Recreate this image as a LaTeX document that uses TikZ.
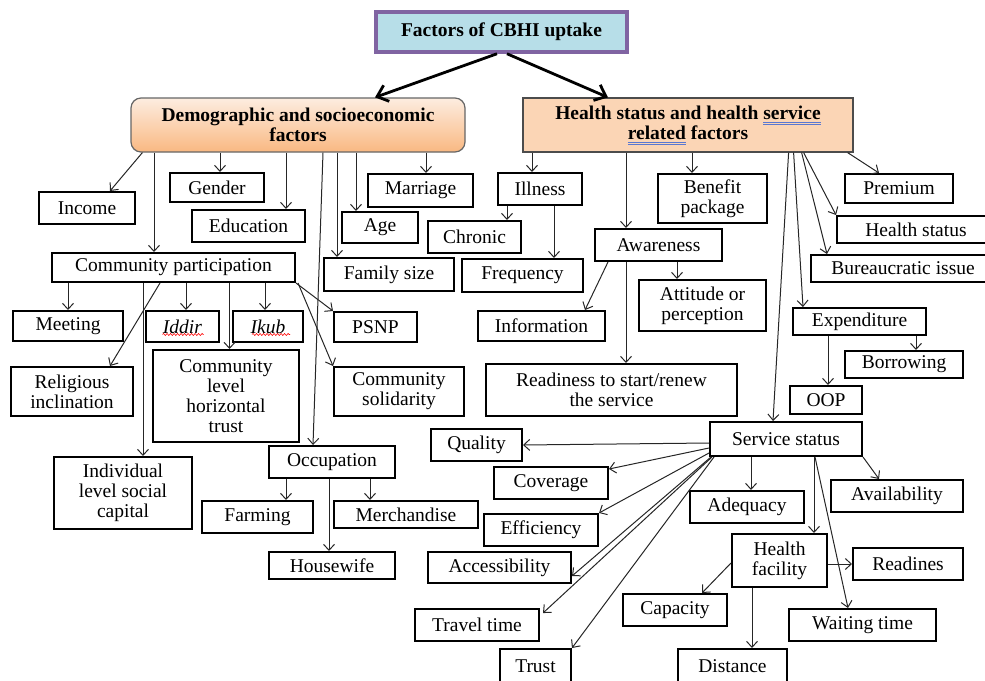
\documentclass[tikz,border=0pt]{standalone}
\usepackage{fontspec}
\setmainfont{Liberation Serif}
\usetikzlibrary{arrows.meta,shadows,decorations.pathmorphing}

\definecolor{titleblue}{RGB}{183,222,232}
\definecolor{titlepurple}{RGB}{128,100,162}
\definecolor{demotop}{RGB}{253,237,224}
\definecolor{demobottom}{RGB}{249,184,130}
\definecolor{healthpeach}{RGB}{251,213,181}
\definecolor{spellblue}{RGB}{90,120,210}

% spell-check mark of the original
\newcommand\blueuu[1]{\setbox0\hbox{#1}\rlap{\textcolor{spellblue}{\rule[-3.5pt]{\wd0}{0.7pt}}}\rlap{\textcolor{spellblue}{\rule[-5.5pt]{\wd0}{0.7pt}}}\box0\relax}

\begin{document}
\begin{tikzpicture}[x=1pt,y=-1pt,
    font=\fontsize{19.5}{20}\selectfont,
    heading/.style={font=\fontsize{19.5}{20}\selectfont\bfseries,align=center},
    box/.style={draw,line width=2pt,fill=white,inner sep=2pt,align=center},
    wh/.style 2 args={minimum width=#1pt,minimum height=#2pt},
    link/.style={draw=black!85,line width=1pt,-{Straight Barb[length=6pt,width=11pt]}},
    biglink/.style={line width=2.8pt,-{Straight Barb[length=10pt,width=17pt]}},
    spellwave/.style={red,line width=.6pt,decorate,decoration={snake,amplitude=1pt,segment length=3.5pt}}]
  \useasboundingbox (0,0) rectangle (985,680);
  \clip (0,0) rectangle (985,680);

  % Top of the tree
  \node[draw=titlepurple,line width=3.5pt,fill=titleblue,wh={251}{40},heading,
        drop shadow={shadow xshift=2pt,shadow yshift=-2pt,opacity=.35}] (title) at (501.5,32) {Factors of CBHI uptake};
  \node[draw=black!60,line width=1.2pt,rounded corners=10pt,top color=demotop,bottom color=demobottom,
        wh={334}{54},heading] (demographic) at (298,125) {Demographic and socioeconomic\\factors};
  \node[draw=black!70,line width=1.2pt,fill=healthpeach,wh={330}{54},heading] (health) at (688,125)
        {Health status and health \blueuu{service}\\\blueuu{related} factors};

  \draw[biglink] ([xshift=-4.5pt]title.south) -- ([xshift=77pt]demographic.north);
  \draw[biglink] ([xshift=5.5pt]title.south) -- ([xshift=-80pt]health.north);

  \begin{scope}[every node/.style=box]
    % Demographic and socioeconomic factors
    \node[wh={96}{32}] (income) at (87,208) {Income};
    \node[wh={94}{29}] (gender) at (217,187.5) {Gender};
    \node[wh={113}{32}] (education) at (248.5,226) {Education};
    \node[wh={76}{31}] (age) at (380,227.5) {Age};
    \node[wh={105}{33}] (marriage) at (420.5,190.5) {Marriage};
    \node[wh={130}{33}] (family_size) at (389,274.5) {Family size};
    \node[wh={243}{29}] (participation) at (173.5,267.5) {Community participation};

    % Community participation
    \node[wh={110}{30}] (meeting) at (68,326) {Meeting};
    \node[wh={73}{31}] (iddir) at (182.5,326.5) {\textit{Iddir}};
    \node[wh={70}{31}] (ikub) at (268,326.5) {\textit{Ikub}};
    \node[wh={83}{30}] (psnp) at (375.5,327) {PSNP};
    \node[wh={122}{49}] (religious) at (72,391.5) {Religious\\inclination};
    \node[wh={146}{92}] (horizontal_trust) at (226,396) {Community\\level\\horizontal\\trust};
    \node[wh={130}{49}] (solidarity) at (399,391.5) {Community\\solidarity};
    \node[wh={138}{72}] (social_capital) at (123,493) {Individual\\level social\\capital};

    % Occupation
    \node[wh={126}{32}] (occupation) at (332,462) {Occupation};
    \node[wh={111}{32}] (farming) at (257.5,517) {Farming};
    \node[wh={144}{27}] (merchandise) at (406,514.5) {Merchandise};
    \node[wh={126}{27}] (housewife) at (332,565.5) {Housewife};

    % Health status and health service related factors
    \node[wh={84}{32}] (illness) at (540,189) {Illness};
    \node[wh={93}{32}] (chronic) at (474.5,237) {Chronic};
    \node[wh={121}{33}] (frequency) at (522.5,275.5) {Frequency};
    \node[wh={109}{49}] (benefit_package) at (712.5,198.5) {Benefit\\package};
    \node[wh={127}{32}] (awareness) at (658.5,245) {Awareness};
    \node[wh={127}{30}] (information) at (541.5,326) {Information};
    \node[wh={127}{51}] (attitude) at (702.5,305.5) {Attitude or\\perception};
    \node[wh={251}{52}] (readiness) at (611.5,390) {Readiness to start/renew\\the service};
    \node[wh={108}{29}] (premium) at (899,188.5) {Premium};
    \node[wh={158}{27}] (health_status) at (916,229.5) {Health status};
    \node[wh={184}{27}] (bureaucratic) at (903,268.5) {Bureaucratic issue};
    \node[wh={133}{27}] (expenditure) at (859.5,321.5) {Expenditure};
    \node[wh={118}{27}] (borrowing) at (904,364.5) {Borrowing};
    \node[wh={72}{28}] (oop) at (826,400) {OOP};

    % Service status
    \node[wh={152}{34}] (service) at (786,439) {Service status};
    \node[wh={91}{32}] (quality) at (476.5,445) {Quality};
    \node[wh={114}{32}] (coverage) at (551,483) {Coverage};
    \node[wh={114}{32}] (efficiency) at (541,530) {Efficiency};
    \node[wh={143}{31}] (accessibility) at (499.5,567.5) {Accessibility};
    \node[wh={124}{32}] (travel_time) at (477,625) {Travel time};
    \node[wh={71}{35}] (trust) at (535.5,666.5) {Trust};
    \node[wh={114}{32}] (adequacy) at (747,507) {Adequacy};
    \node[wh={132}{32}] (availability) at (897,496) {Availability};
    \node[wh={95}{53}] (health_facility) at (779.5,560.5) {Health\\facility};
    \node[wh={110}{32}] (readines) at (908,564) {Readines};
    \node[wh={104}{32}] (capacity) at (675,610) {Capacity};
    \node[wh={109}{35}] (distance) at (732.5,666.5) {Distance};
    \node[wh={147}{32}] (waiting_time) at (862.5,625) {Waiting time};
  \end{scope}

  % red spell-check waves under Iddir and Ikub
  \draw[spellwave] ([xshift=-20pt,yshift=-8pt]iddir.center) -- ([xshift=21pt,yshift=-8pt]iddir.center);
  \draw[spellwave] ([xshift=-16pt,yshift=-8pt]ikub.center) -- ([xshift=22pt,yshift=-8pt]ikub.center);

  % Demographic links
  \draw[link] ([xshift=12pt]demographic.south west) -- ([xshift=23pt]income.north);
  \draw[link] ([xshift=3pt]gender.north |- demographic.south) -- ([xshift=3pt]gender.north);
  \draw[link] ([xshift=37.5pt]education.north |- demographic.south) -- ([xshift=37.5pt]education.north);
  \draw[link] ([xshift=-19.5pt]participation.north |- demographic.south) -- ([xshift=-19.5pt]participation.north);
  \draw[link] ([xshift=25pt]demographic.south) -- ([xshift=-19pt]occupation.north);
  \draw[link] ([xshift=-52pt]family_size.north |- demographic.south) -- ([xshift=-52pt]family_size.north);
  \draw[link] ([xshift=-24pt]age.north |- demographic.south) -- ([xshift=-24pt]age.north);
  \draw[link] ([xshift=5.5pt]marriage.north |- demographic.south) -- ([xshift=5.5pt]marriage.north);

  \draw[link] (meeting.north |- participation.south) -- (meeting.north);
  \draw[link] ([xshift=3.5pt]iddir.north |- participation.south) -- ([xshift=3.5pt]iddir.north);
  \draw[link] ([xshift=-3pt]ikub.north |- participation.south) -- ([xshift=-3pt]ikub.north);
  \draw[link] ([xshift=3.5pt]horizontal_trust.north |- participation.south) -- ([xshift=3.5pt]horizontal_trust.north);
  \draw[link] ([xshift=-13.5pt]participation.south) -- ([xshift=38pt]religious.north);
  \draw[link] ([xshift=20pt]social_capital.north |- participation.south) -- ([xshift=20pt]social_capital.north);
  \draw[link] (participation.south east) -- (psnp.north west);
  \draw[link] ([xshift=2pt]participation.south east) -- (solidarity.north west);

  \draw[link] ([xshift=28.5pt]farming.north |- occupation.south) -- ([xshift=28.5pt]farming.north);
  \draw[link] ([xshift=-36pt]merchandise.north |- occupation.south) -- ([xshift=-36pt]merchandise.north);
  \draw[link] ([xshift=-3pt]housewife.north |- occupation.south) -- ([xshift=-3pt]housewife.north);

  % Health service links
  \draw[link] ([xshift=-8pt]illness.north |- health.south) -- ([xshift=-8pt]illness.north);
  \draw[link] ([xshift=32.5pt]chronic.north |- illness.south) -- ([xshift=32.5pt]chronic.north);
  \draw[link] ([xshift=31.5pt]frequency.north |- illness.south) -- ([xshift=31.5pt]frequency.north);
  \draw[link] ([xshift=-20.5pt]benefit_package.north |- health.south) -- ([xshift=-20.5pt]benefit_package.north);
  \draw[link] ([xshift=-32.5pt]awareness.north |- health.south) -- ([xshift=-32.5pt]awareness.north);
  \draw[link] ([xshift=-6pt]health.south east) -- ([xshift=-20pt]premium.north);
  \draw[link] ([xshift=-50pt]health.south east) -- (health_status.north west);
  \draw[link] ([xshift=-52pt]health.south east) -- ([xshift=17pt]bureaucratic.north west);
  \draw[link] ([xshift=-60pt]health.south east) -- ([xshift=11pt]expenditure.north west);
  \draw[link] ([xshift=-65pt]health.south east) -- ([xshift=-13pt]service.north);

  \draw[link] ([xshift=14pt]awareness.south west) -- ([xshift=43.5pt]information.north);
  \draw[link] ([xshift=-25.5pt]attitude.north |- awareness.south) -- ([xshift=-25.5pt]attitude.north);
  \draw[link] ([xshift=14.5pt]readiness.north |- awareness.south) -- ([xshift=14.5pt]readiness.north);

  \draw[link] ([xshift=12pt]borrowing.north |- expenditure.south) -- ([xshift=12pt]borrowing.north);
  \draw[link] ([xshift=2pt]oop.north |- expenditure.south) -- ([xshift=2pt]oop.north);

  % Service status links
  \draw[link] ([yshift=-4pt]service.west) -- (quality.east);
  \draw[link] ([yshift=-9pt]service.west) -- ([yshift=-3pt]coverage.north east);
  \draw[link] ([yshift=-14pt]service.west) -- (efficiency.north east);
  \draw[link] ([xshift=2pt]service.south west) -- ([yshift=-8.5pt]accessibility.east);
  \draw[link] ([xshift=3pt]service.south west) -- ([xshift=3pt,yshift=-5pt]travel_time.north east);
  \draw[link] ([xshift=5pt]service.south west) -- (trust.north east);
  \draw[link] ([xshift=4pt]adequacy.north |- service.south) -- ([xshift=4pt]adequacy.north);
  \draw[link] ([xshift=34.5pt]health_facility.north |- service.south) -- ([xshift=34.5pt]health_facility.north);
  \draw[link] ([xshift=29pt]service.south) -- ([xshift=-14.5pt]waiting_time.north);
  \draw[link] (service.south east) -- ([xshift=-18pt]availability.north);

  \draw[link] (health_facility.east |- readines.west) -- (readines.west);
  \draw[link] ([yshift=-2.5pt]health_facility.west) -- ([xshift=27pt]capacity.north);
  \draw[link] ([xshift=19.5pt]distance.north |- health_facility.south) -- ([xshift=19.5pt]distance.north);
\end{tikzpicture}
\end{document}
